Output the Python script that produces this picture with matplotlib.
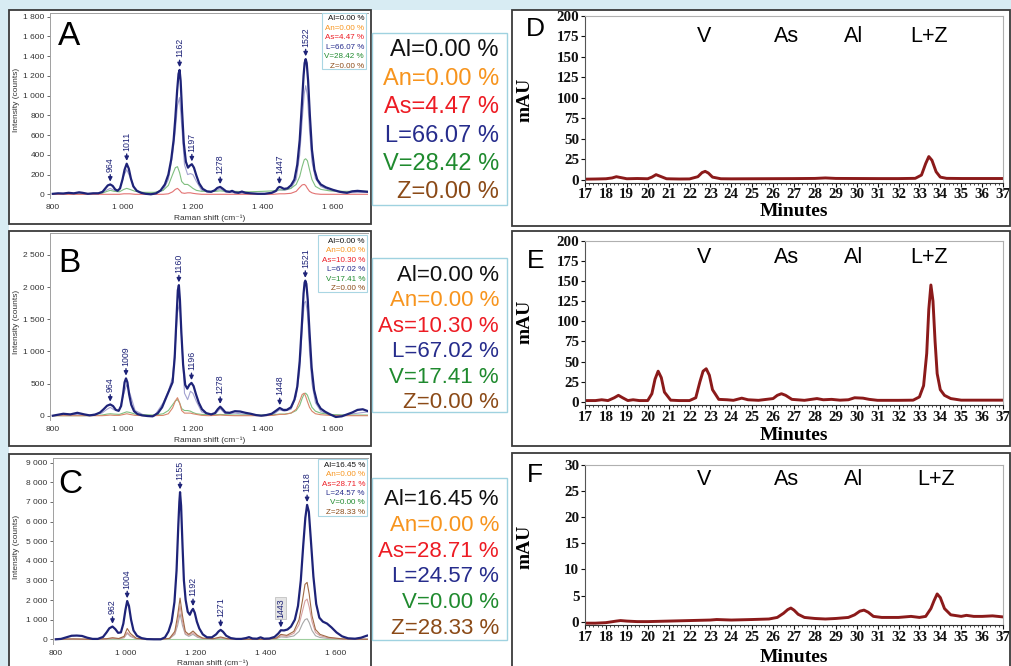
import matplotlib
matplotlib.use("Agg")
import matplotlib.pyplot as plt
from matplotlib.patches import Rectangle
from matplotlib.ticker import FuncFormatter, MultipleLocator
import matplotlib.transforms as mtransforms

W, H = 1011, 666
plt.rcParams['font.family'] = ['Liberation Sans', 'DejaVu Sans']

# ---------------- Raman spectra ----------------
NAMES = ["Al", "An", "As", "L", "V", "Z"]
TXT_COLORS = ["#111111", "#f7941d", "#ed1c24", "#262c8c", "#1f8a2e", "#8b4a17"]
NAVY = "#1e2378"

# A
A_x = [800, 815, 830, 845, 860, 875, 885, 900, 915, 930,
       942, 950, 957, 964, 971, 978, 985, 992, 999, 1005,
       1011, 1017, 1023, 1030, 1040, 1052, 1065, 1080, 1095, 1108,
       1120, 1130, 1138, 1145, 1150, 1155, 1159, 1162, 1165, 1169,
       1174, 1180, 1186, 1191, 1197, 1203, 1210, 1218, 1228, 1240,
       1252, 1262, 1270, 1278, 1286, 1295, 1305, 1312, 1320, 1330,
       1340, 1350, 1365, 1385, 1405, 1425, 1437, 1443, 1447, 1452,
       1460, 1470, 1480, 1490, 1498, 1505, 1511, 1516, 1519, 1522,
       1525, 1529, 1534, 1540, 1547, 1555, 1565, 1580, 1600, 1620,
       1640, 1655, 1670, 1685, 1700]
A_y = [5, 10, 8, 15, 10, 20, 15, 5, 10, 10,
       25, 60, 90, 100, 85, 50, 35, 60, 150, 250,
       310, 260, 160, 80, 35, 15, 5, 0, 10, 40,
       100, 200, 350, 550, 780, 1050, 1220, 1260, 1150, 850,
       520, 330, 270, 290, 305, 270, 190, 110, 55, 30,
       25, 40, 65, 75, 55, 30, 25, 35, 20, 15,
       28, 15, 10, 5, 5, 15, 35, 65, 75, 70,
       55, 60, 90, 150, 300, 550, 900, 1200, 1330, 1370,
       1330, 1150, 800, 450, 250, 150, 100, 70, 45, 25,
       15, 30, 35, 30, 25]
AB_cx = [800, 850, 900, 940, 955, 964, 975, 990, 1003, 1011,
         1020, 1035, 1060, 1090, 1115, 1130, 1142, 1150, 1156, 1162,
         1168, 1176, 1185, 1193, 1200, 1210, 1225, 1245, 1265, 1278,
         1292, 1320, 1360, 1400, 1430, 1447, 1462, 1480, 1495, 1505,
         1512, 1518, 1522, 1527, 1533, 1540, 1550, 1565, 1590, 1630,
         1700]
A_L = [5, 10, 5, 15, 45, 60, 40, 50, 190, 250,
       180, 50, 5, 5, 40, 150, 400, 650, 900, 980,
       700, 300, 200, 210, 200, 130, 40, 20, 35, 55,
       25, 15, 5, 5, 15, 45, 40, 60, 150, 400,
       750, 1020, 1100, 1000, 650, 330, 160, 80, 40, 15,
       20]
A_V = [0, 0, 0, 10, 30, 40, 30, 25, 50, 60,
       50, 30, 20, 20, 40, 90, 200, 270, 280, 220,
       130, 100, 100, 80, 60, 40, 30, 30, 30, 35,
       30, 30, 25, 30, 35, 45, 45, 60, 100, 180,
       280, 350, 360, 340, 250, 150, 80, 50, 35, 30,
       30]
A_As = [0, 0, 0, 0, 0, 0, 0, 0, 5, 5,
        5, 0, 0, 0, 0, 5, 25, 50, 60, 40,
        15, 10, 15, 15, 10, 5, 0, 0, 0, 0,
        0, 0, 0, 0, 0, 5, 5, 10, 30, 70,
        95, 100, 90, 60, 30, 15, 5, 0, 0, 0,
        0]
A_peaks = [964, 1011, 1162, 1197, 1278, 1447, 1522]
A_peak_y = [100, 310, 1260, 305, 75, 75, 1370]
A_pct = ["0.00", "0.00", "4.47", "66.07", "28.42", "0.00"]

# B
B_x = [800, 815, 830, 850, 870, 890, 905, 920, 935, 945,
       955, 964, 972, 980, 988, 995, 1001, 1005, 1009, 1013,
       1018, 1024, 1032, 1042, 1055, 1070, 1085, 1100, 1112, 1125,
       1135, 1142, 1148, 1153, 1157, 1160, 1163, 1167, 1172, 1178,
       1184, 1190, 1196, 1202, 1209, 1217, 1226, 1238, 1252, 1263,
       1271, 1278, 1285, 1293, 1305, 1320, 1335, 1350, 1365, 1380,
       1395, 1410, 1425, 1438, 1448, 1458, 1468, 1480, 1490, 1498,
       1505, 1511, 1516, 1519, 1521, 1524, 1528, 1533, 1539, 1546,
       1555, 1565, 1578, 1592, 1608, 1625, 1640, 1655, 1670, 1685,
       1700]
B_y = [0, 15, 30, 20, 45, 20, 5, 15, 50, 100,
       155, 175, 150, 90, 75, 150, 350, 520, 580, 520,
       330, 170, 70, 25, 5, -5, -10, 40, 130, 300,
       430, 520, 900, 1500, 1950, 2030, 1800, 1300, 800, 480,
       420, 480, 510, 460, 330, 200, 100, 40, 20, 40,
       100, 140, 100, 50, 45, 70, 65, 45, 30, 10,
       0, 10, 30, 80, 120, 90, 90, 130, 250, 450,
       850, 1400, 1900, 2070, 2100, 2050, 1800, 1300, 750, 400,
       200, 110, 60, 20, -20, -10, 20, 50, 90, 100,
       70]
B_L = [0, 20, 10, 40, 100, 130, 90, 80, 350, 480,
       350, 80, 10, -5, 200, 380, 600, 1100, 1600, 1750,
       1200, 350, 250, 380, 350, 220, 60, 15, 30, 110,
       30, 40, 15, 0, 20, 90, 70, 100, 300, 700,
       1350, 1750, 1780, 1600, 1000, 500, 200, 70, 10, 10,
       60]
B_V = [0, 0, 0, 10, 25, 30, 25, 20, 45, 60,
       50, 25, 15, 10, 30, 80, 170, 230, 250, 200,
       110, 80, 80, 70, 50, 30, 20, 15, 15, 20,
       15, 10, 10, 10, 15, 25, 25, 40, 80, 160,
       270, 340, 350, 320, 230, 130, 70, 40, 20, 10,
       10]
B_As = [0, 0, 0, 0, 5, 10, 5, 5, 20, 30,
        20, 5, 0, 0, 5, 30, 120, 230, 280, 200,
        80, 40, 40, 40, 30, 20, 5, 0, 5, 10,
        5, 0, 0, 0, 5, 20, 20, 40, 100, 230,
        330, 350, 300, 220, 130, 70, 30, 15, 5, 0,
        0]
B_peaks = [964, 1009, 1160, 1196, 1278, 1448, 1521]
B_peak_y = [175, 580, 2030, 510, 140, 120, 2100]
B_pct = ["0.00", "0.00", "10.30", "67.02", "17.41", "0.00"]

# C
C_x = [800, 815, 830, 845, 860, 875, 890, 905, 920, 935,
       945, 953, 962, 970, 978, 986, 993, 999, 1004, 1009,
       1015, 1022, 1032, 1045, 1060, 1080, 1100, 1112, 1122, 1131,
       1139, 1145, 1150, 1153, 1155, 1158, 1162, 1166, 1171, 1177,
       1183, 1188, 1192, 1197, 1203, 1210, 1220, 1232, 1246, 1258,
       1265, 1271, 1278, 1287, 1300, 1315, 1330, 1343, 1352, 1362,
       1375, 1385, 1395, 1410, 1425, 1436, 1443, 1452, 1462, 1472,
       1483, 1492, 1500, 1507, 1513, 1518, 1523, 1529, 1536, 1544,
       1553, 1563, 1575, 1588, 1602, 1618, 1635, 1655, 1672, 1688,
       1700]
C_y = [0, 20, 100, 180, 190, 170, 80, 20, 20, 120,
       350, 560, 650, 520, 330, 350, 800, 1500, 1950, 1700,
       1000, 450, 180, 60, 10, 0, 0, 100, 400, 900,
       1900, 3500, 5800, 7000, 7500, 6800, 4800, 3000, 2000, 1400,
       1250, 1450, 1550, 1350, 900, 550, 250, 100, 100, 250,
       400, 480, 380, 180, 60, 20, 20, 60, 110, 40,
       30, 100, 30, 40, 120, 300, 460, 450, 500, 650,
       1000, 1700, 3000, 4800, 6200, 6850, 6500, 5000, 3200, 1800,
       1100, 900, 800, 600, 350, 150, 50, 30, 80, 180,
       230]
C_cx = [800, 850, 900, 945, 962, 980, 995, 1004, 1013, 1030,
        1060, 1100, 1125, 1140, 1148, 1155, 1162, 1170, 1180, 1192,
        1205, 1220, 1250, 1271, 1290, 1330, 1400, 1430, 1443, 1460,
        1480, 1495, 1505, 1512, 1518, 1524, 1532, 1542, 1555, 1580,
        1620, 1700]
C_Z = [0, 20, 0, 30, 80, 40, 150, 550, 300, 50,
       0, 0, 50, 400, 1200, 2100, 1200, 400, 250, 420,
       200, 60, 30, 120, 30, 0, 0, 60, 250, 200,
       400, 1000, 2000, 2800, 2900, 2300, 1200, 500, 250, 100,
       20, 0]
C_As = [0, 10, 0, 20, 50, 30, 100, 350, 200, 30,
        0, 0, 40, 300, 900, 1700, 900, 300, 200, 330,
        150, 40, 20, 90, 20, 0, 0, 40, 180, 150,
        300, 750, 1450, 1950, 2050, 1650, 900, 350, 180, 70,
        10, 0]
C_Al = [0, 5, 0, 10, 30, 20, 80, 300, 150, 20,
        0, 0, 30, 250, 700, 1300, 700, 250, 150, 250,
        100, 30, 15, 60, 15, 0, 0, 30, 120, 100,
        170, 400, 800, 1000, 1050, 850, 450, 180, 90, 40,
        5, 0]
C_zero = [0] * len(C_cx)
C_peaks = [962, 1004, 1155, 1192, 1271, 1443, 1518]
C_peak_y = [650, 1950, 7500, 1550, 480, 460, 6850]
C_pct = ["16.45", "0.00", "28.71", "24.57", "0.00", "28.33"]

# ---------------- HPLC chromatograms ----------------
D_t = [17, 17.5, 18, 18.3, 18.5, 18.7, 19, 19.5, 20, 20.2,
       20.4, 20.6, 20.9, 21.5, 22, 22.4, 22.6, 22.75, 22.9, 23.1,
       23.5, 24, 25, 26, 27, 28, 28.5, 29, 30, 31,
       32, 32.8, 33.1, 33.3, 33.45, 33.6, 33.8, 34.0, 34.3, 35,
       36, 37]
D_mau = [1.0, 1.2, 1.5, 2.5, 4.0, 3.0, 1.5, 1.8, 1.5, 3.5,
         6.5, 4.5, 1.5, 1.2, 1.3, 4.0, 9.0, 10.5, 8.5, 3.5,
         1.5, 1.4, 1.5, 1.6, 1.7, 1.9, 2.5, 1.9, 1.8, 1.7,
         1.7, 2.0, 6.0, 20.0, 28.5, 24.0, 10.0, 3.5, 2.0, 1.8,
         1.8, 1.8]
E_t = [17, 17.5, 17.8, 18.1, 18.4, 18.6, 18.8, 19.05, 19.3, 19.6,
       20, 20.2, 20.35, 20.5, 20.65, 20.8, 21.1, 21.5, 22, 22.3,
       22.5, 22.65, 22.8, 22.95, 23.1, 23.4, 23.8, 24.1, 24.5, 24.8,
       25.3, 26, 26.2, 26.4, 26.6, 26.9, 27.5, 28.1, 28.4, 28.8,
       29.2, 29.6, 29.9, 30.3, 30.6, 31, 32, 32.7, 33.0, 33.2,
       33.35, 33.45, 33.55, 33.65, 33.75, 33.85, 34.0, 34.2, 34.5, 35,
       36, 37]
E_mau = [1.5, 1.5, 2.5, 1.5, 5, 8, 5, 1.5, 2.5, 1.5,
         1.5, 10, 28, 38, 30, 12, 2, 1.5, 1.5, 5,
         25, 38, 41, 33, 15, 3, 2.5, 1.8, 4.5, 2.5,
         1.8, 4, 8, 10, 8, 3, 1.8, 4, 2.5, 3,
         2, 2.5, 5, 4.5, 3, 1.8, 1.8, 2, 6, 20,
         60, 115, 145, 125, 75, 35, 15, 8, 4, 2,
         2, 2]
F_t = [17, 17.5, 18, 18.5, 18.7, 19, 19.5, 20, 21, 22,
       23, 23.3, 24, 25, 25.8, 26.2, 26.5, 26.7, 26.85, 27.0,
       27.2, 27.5, 28, 28.5, 29, 29.6, 29.9, 30.15, 30.35, 30.55,
       30.8, 31.2, 32, 32.6, 33.0, 33.3, 33.55, 33.7, 33.85, 34.0,
       34.2, 34.5, 35, 35.25, 35.6, 36, 36.5, 37]
F_mau = [-0.3, -0.3, -0.2, 0.1, 0.2, 0.1, 0.0, 0.0, 0.1, 0.2,
         0.3, 0.4, 0.3, 0.4, 0.5, 0.8, 1.6, 2.3, 2.6, 2.2,
         1.4, 0.8, 0.6, 0.5, 0.6, 0.8, 1.3, 2.0, 2.2, 1.8,
         1.0, 0.8, 0.8, 1.0, 0.8, 1.0, 2.5, 4.0, 5.3, 4.6,
         2.5, 1.3, 1.0, 1.2, 1.0, 1.0, 1.1, 0.9]
PIGMENTS = ["V", "As", "Al", "L+Z"]
D_pig_t = [22.69, 26.66, 29.83, 33.48]
F_pig_t = [22.69, 26.66, 29.83, 33.8]


fig = plt.figure(figsize=(W / 100, H / 100), dpi=100)
fig.patch.set_facecolor("#d8ecf3")


def px_rect(l, t, r, b):
    return [l / W, 1 - b / H, (r - l) / W, (b - t) / H]


def box(l, t, r, b, ec, lw, fc="none", z=1):
    fig.patches.append(Rectangle((l / W, 1 - b / H), (r - l) / W, (b - t) / H,
                                 transform=fig.transFigure, fc=fc, ec=ec,
                                 lw=lw, zorder=z))


def ptext(x, y, s, **kw):
    return fig.text(x / W, 1 - y / H, s, **kw)


# white page + panel frames
box(9, 10, 1013, 670, "none", 0, fc="white", z=-5)
for fr in [(9, 10, 371, 224), (9, 231, 371, 446), (9, 454, 371, 670),
           (512, 10, 1010, 226), (512, 231, 1010, 446), (512, 453, 1010, 670)]:
    box(*fr, ec="#3a3a3a", lw=1.3, z=0.5)

space_fmt = FuncFormatter(lambda v, p: f"{int(round(v)):,}".replace(",", " "))


def raman(rect, xlim, ylim, ystep, x, y, cx, comps, peaks, peak_y, letter,
          letter_xy, small_box, small_y0, small_dy, pct, big_box, big_y0,
          big_dy, big_fs, ylab_y, xlab_y, boxed_peak=None):
    ax = fig.add_axes(px_rect(*rect))
    ax.set_facecolor("none")
    for vals, col in comps:
        ax.plot(cx, vals, color=col, lw=0.8)
    ax.plot(x, y, color=NAVY, lw=1.6)
    ax.set_xlim(*xlim)
    ax.set_ylim(*ylim)
    ax.set_xticks([800, 1000, 1200, 1400, 1600])
    ax.set_yticks(range(0, int(ylim[1]) + 1, ystep))
    ax.xaxis.set_major_formatter(space_fmt)
    ax.yaxis.set_major_formatter(space_fmt)
    ax.tick_params(labelsize=6, colors="#333333", length=2, width=0.5, pad=2)
    ax.tick_params(axis="x", length=0, pad=4)
    for s in ["right", "bottom"]:
        ax.spines[s].set_visible(False)
    for s in ["left", "top"]:
        ax.spines[s].set_color("#a0a0a0")
        ax.spines[s].set_linewidth(0.7)
    for p, py in zip(peaks, peak_y):
        bb = None
        if p == boxed_peak:
            bb = dict(fc="#e4e4e4", ec="#b8b8b8", lw=0.5, pad=0.8)
        ax.annotate(str(p), xy=(p, py), xytext=(0, 9), textcoords="offset points",
                    rotation=90, ha="center", va="bottom", fontsize=6.3,
                    color=NAVY, bbox=bb,
                    arrowprops=dict(arrowstyle="-|>", color=NAVY, lw=1.0,
                                    shrinkA=0, shrinkB=2, mutation_scale=6))
    ptext(letter_xy[0], letter_xy[1], letter, fontsize=24, ha="left",
          va="baseline", color="black")
    ptext(17, ylab_y, "Intensity (counts)", rotation=90, fontsize=6,
          ha="center", va="center", color="#333333")
    ptext(rect[0] + 160, xlab_y, "Raman shift (cm⁻¹)", fontsize=6,
          ha="center", va="center", color="#333333")
    # small legend inside plot
    box(*small_box, ec="#a9d6e3", lw=0.8, fc="white", z=2)
    for i, (n, v, c) in enumerate(zip(NAMES, pct, TXT_COLORS)):
        ptext(small_box[2] - 2, small_y0 + i * small_dy + 2.9, f"{n}={v} %",
              fontsize=5.8, color=c, ha="right", va="baseline")
    # large legend beside plot
    box(*big_box, ec="#9fd2e0", lw=1.0, z=2)
    cap = big_fs * 100 / 72 * 0.716
    for i, (n, v, c) in enumerate(zip(NAMES, pct, TXT_COLORS)):
        ptext(499, big_y0 + i * big_dy + cap / 2, f"{n}={v} %",
              fontsize=big_fs, color=c, ha="right", va="baseline")
    return ax


raman((50, 13, 368, 198), (792, 1700), (-37.5, 1837), 200, A_x, A_y, AB_cx,
      [(A_L, "#a3a2d0"), (A_V, "#80bf80"), (A_As, "#e27272")],
      A_peaks, A_peak_y, "A", (58, 45), (322, 13, 366, 69), 17, 9.6, A_pct,
      (372, 33, 507, 205), 48, 28.4, 17, 100, 218)
raman((50, 233, 368, 420), (792, 1700), (-67, 2841), 500, B_x, B_y, AB_cx,
      [(B_L, "#a3a2d0"), (B_V, "#80bf80"), (B_As, "#d9866a")],
      B_peaks, B_peak_y, "B", (58, 272), (318, 235, 367, 292), 240, 9.45, B_pct,
      (372, 258, 507, 412), 273, 25.4, 16, 322, 440)
raman((53, 458, 368, 644), (792, 1692), (-240, 9240), 1000, C_x, C_y, C_cx,
      [(C_zero, "#9fcf9f"), (C_Al, "#a8a8a8"), (C_As, "#d7a0a0"), (C_Z, "#a06a45")],
      C_peaks, C_peak_y, "C", (58, 493), (318, 459, 367, 516), 464, 9.4, C_pct,
      (372, 478, 507, 640), 497, 25.8, 16, 547, 663, boxed_peak=1443)


def chrom(rect, ylim, ystep, t, mau, letter, letter_xy, pig_t, pig_y,
          mau_y, min_y):
    ax = fig.add_axes(px_rect(*rect))
    ax.set_facecolor("none")
    ax.plot(t, mau, color="#8b1a1a", lw=2.1)
    ax.set_xlim(17, 37)
    ax.set_ylim(*ylim)
    ax.set_xticks(range(17, 38))
    ax.set_yticks(range(0, int(ylim[1]) + 1, ystep))
    ax.xaxis.set_minor_locator(MultipleLocator(0.2))
    ax.tick_params(labelsize=10.8, length=3, width=0.8, pad=1, colors="#111111")
    ax.tick_params(axis="x", which="minor", length=1.5, width=0.5)
    for lbl in ax.get_xticklabels() + ax.get_yticklabels():
        lbl.set_family("Liberation Serif")
        lbl.set_fontweight("bold")
    ax.spines["left"].set_color("#555555")
    ax.spines["bottom"].set_color("#333333")
    for s in ["top", "right"]:
        ax.spines[s].set_color("#b0b0b0")
    ptext(letter_xy[0], letter_xy[1], letter, fontsize=19, ha="left",
          va="baseline")
    tr = mtransforms.blended_transform_factory(ax.transData, fig.transFigure)
    for name, pt in zip(PIGMENTS, pig_t):
        ax.text(pt, 1 - pig_y / H, name, transform=tr, fontsize=15.5,
                ha="center", va="baseline")
    ptext(525, mau_y, "mAU", rotation=90, fontsize=14, fontweight="bold",
          family="Liberation Serif", ha="center", va="center")
    ptext(794, min_y, "Minutes", fontsize=14, fontweight="bold",
          family="Liberation Serif", ha="center", va="center")
    return ax


chrom((585, 15.7, 1003, 182.7), (-3.3, 200), 25, D_t, D_mau, "D", (526, 36),
      D_pig_t, 41.5, 100, 211)
chrom((585, 240.7, 1003, 405), (-4, 200), 25, E_t, E_mau, "E", (527, 268),
      D_pig_t, 262.5, 322, 435)
chrom((585, 465, 1003, 625), (-0.65, 30), 5, F_t, F_mau, "F", (527, 482),
      F_pig_t, 485, 547, 658)

fig.savefig("out.png", dpi=100, facecolor=fig.get_facecolor())
